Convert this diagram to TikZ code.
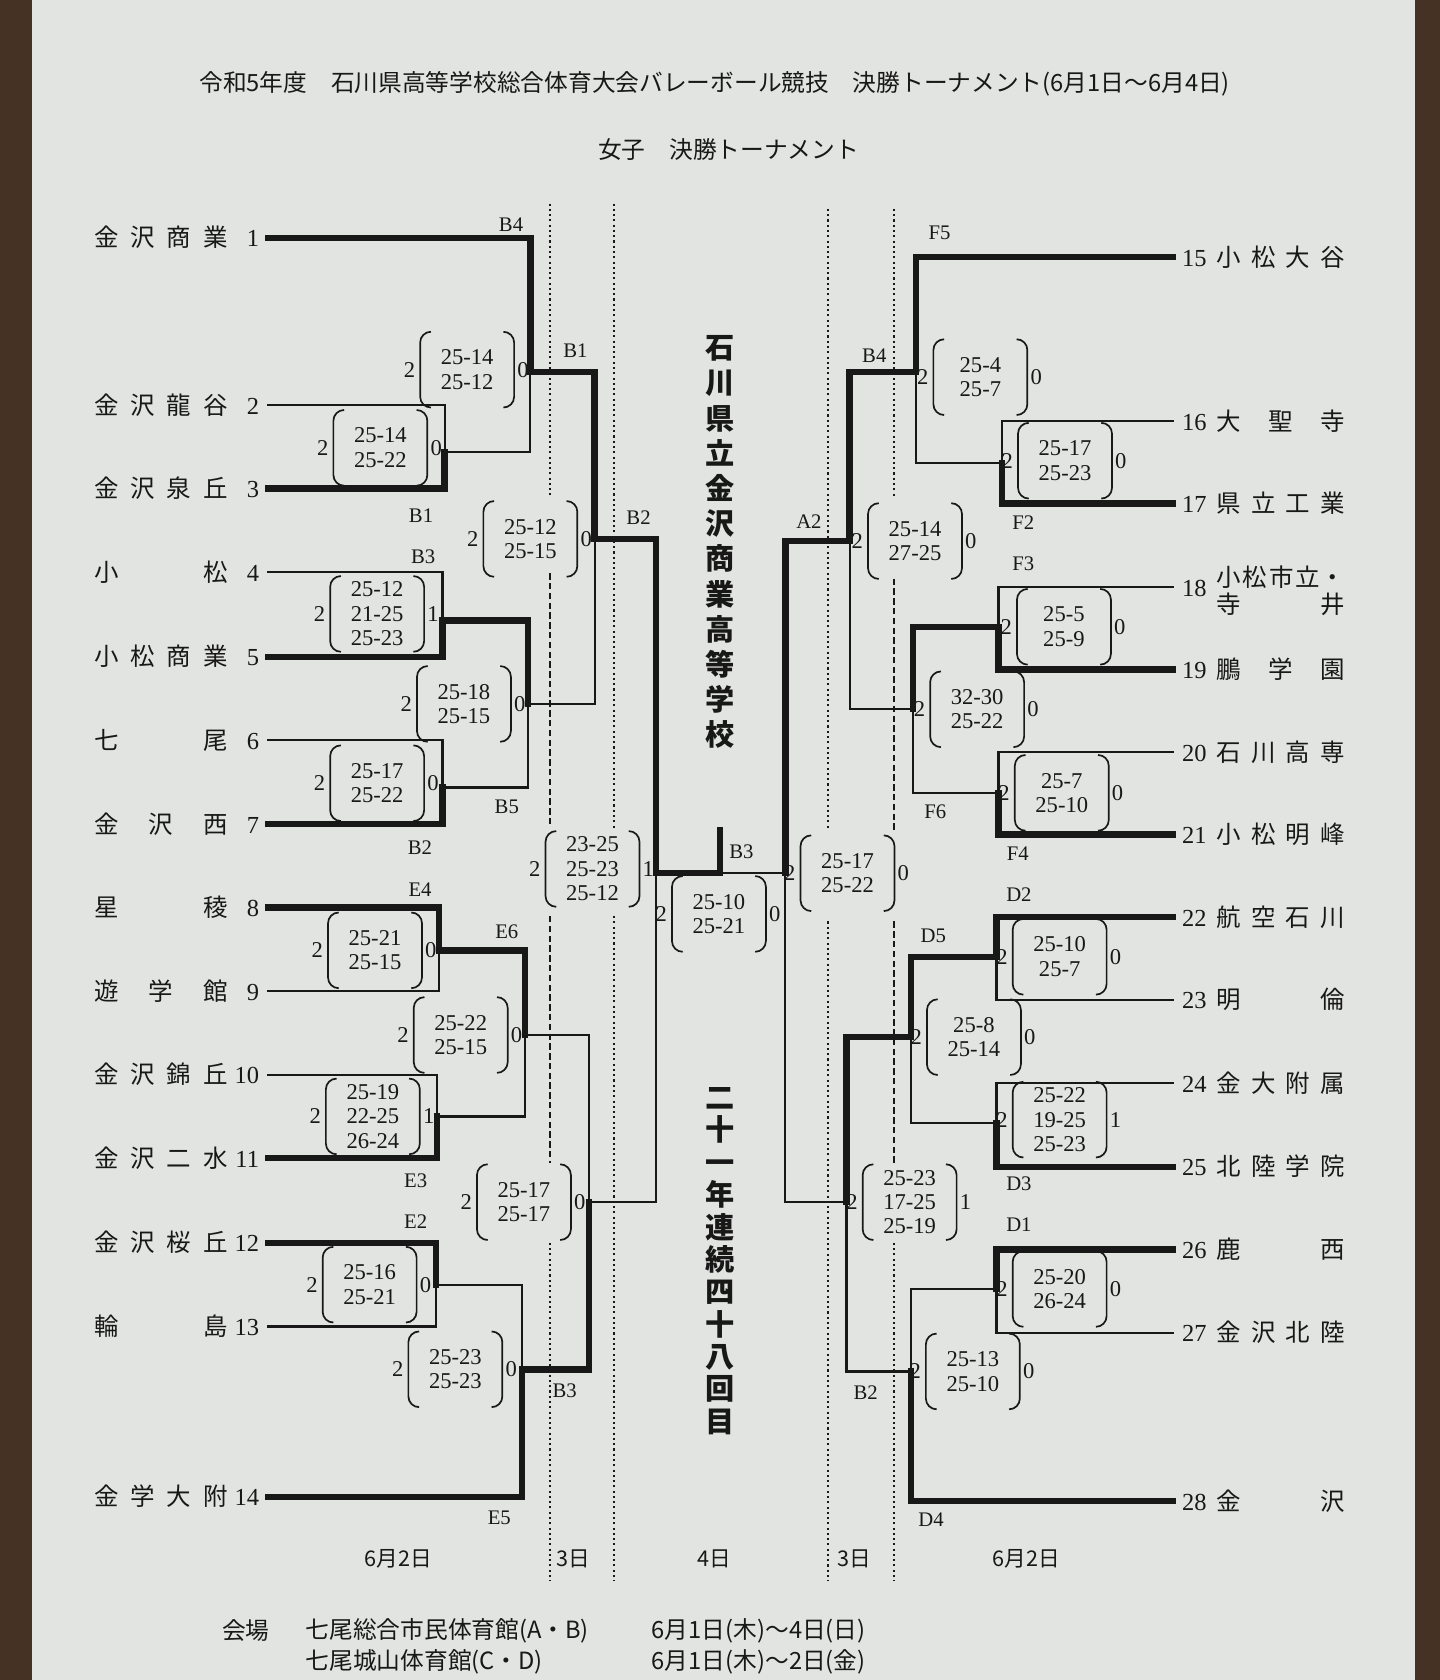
\documentclass[tikz,border=0pt]{standalone}
\usepackage{fontspec}
\setmainfont{Liberation Serif}
\newfontfamily\jp{Noto Sans CJK JP}
\definecolor{paper}{RGB}{226,228,225}
\definecolor{wood}{RGB}{70,50,36}
\definecolor{ink}{RGB}{24,24,24}
\newcommand\mscore[5]{%
  \node[sbox] (#1) at (#2) {#5};
  \draw[brk] ([xshift=0.2cm]#1.north west) -- (#1.north west) -- (#1.south west) -- ([xshift=0.2cm]#1.south west);
  \draw[brk] ([xshift=-0.2cm]#1.north east) -- (#1.north east) -- (#1.south east) -- ([xshift=-0.2cm]#1.south east);
  \node[snum,anchor=east,inner xsep=2.5pt] (#1l) at (#1.west) {#3};
  \node[snum,anchor=west] (#1r) at (#1.east) {#4};}

\begin{document}
\begin{tikzpicture}[x=0.02cm,y=-0.02cm,color=ink,line join=miter,
    win/.style={line width=3.4pt,line cap=rect},
    lose/.style={line width=1.2pt,line cap=rect},
    brk/.style={line width=0.9pt,rounded corners=0.2cm},
    sbox/.style={minimum width=1.74cm,minimum height=1.4cm,inner sep=0pt,align=center,font=\fontsize{12}{13}\selectfont},
    snum/.style={inner sep=1.5pt,font=\fontsize{12}{13}\selectfont},
    code/.style={inner sep=0pt,font=\fontsize{11}{12}\selectfont},
    teamL/.style={anchor=east,inner xsep=4.5pt,inner ysep=0pt,text height=0.36cm,text depth=0.02cm,font=\fontsize{13}{15}\selectfont},
    teamR/.style={teamL,anchor=west},
    dotv/.style={line width=1.1pt,dash pattern=on 1.1pt off 1.7pt},
    dashv/.style={line width=1.1pt,dash pattern=on 3.4pt off 1.8pt},
    vtxt/.style={align=center,font=\jp\bfseries\fontsize{15.5}{18.7}\selectfont},
    jtxt/.style={font=\jp\fontsize{12.6}{14}\selectfont}]
\useasboundingbox (0,0) rectangle (1344,1568);
\clip (0,0) rectangle (1344,1568);
\fill[wood] (0,0) rectangle (1344,1568);
\fill[paper] (30,0) rectangle (1321,1568);

\node[jtxt] (title) at (667,78) {令和5年度　石川県高等学校総合体育大会バレーボール競技　決勝トーナメント(6月1日～6月4日)};
\node[jtxt] (sub) at (680,140) {女子　決勝トーナメント};

\foreach \x/\a/\b in {513/190/462,513/1160/1475,573/190/775,573/855/1475,773/195/775,773/860/1475,834/195/465,834/1160/1475}
  \draw[dotv] (\x,\a) -- (\x,\b);
\foreach \x/\a/\b in {513/535/772,513/855/1085,834/540/775,834/860/1085}
  \draw[dashv] (\x,\a) -- (\x,\b);

\foreach \n/\y/\nm in {1/222/{金\hfill 沢\hfill 商\hfill 業},2/378/{金\hfill 沢\hfill 龍\hfill 谷},3/456/{金\hfill 沢\hfill 泉\hfill 丘},
    4/534/{小\hfill 松},5/613/{小\hfill 松\hfill 商\hfill 業},6/691/{七\hfill 尾},7/769/{金\hfill 沢\hfill 西},
    8/847/{星\hfill 稜},9/925/{遊\hfill 学\hfill 館},10/1003/{金\hfill 沢\hfill 錦\hfill 丘},11/1081/{金\hfill 沢\hfill 二\hfill 水},
    12/1160/{金\hfill 沢\hfill 桜\hfill 丘},13/1238/{輪\hfill 島},14/1397/{金\hfill 学\hfill 大\hfill 附}}
  \node[teamL] (t\n) at (250,\y) {\makebox[2.5cm]{\jp\nm}\hspace{0.06cm}\makebox[0.52cm][r]{\n}};
\foreach \n/\y/\nm in {15/240/{小\hfill 松\hfill 大\hfill 谷},16/393/{大\hfill 聖\hfill 寺},17/470/{県\hfill 立\hfill 工\hfill 業},
    19/625/{鵬\hfill 学\hfill 園},20/702/{石\hfill 川\hfill 高\hfill 専},21/779/{小\hfill 松\hfill 明\hfill 峰},
    22/856/{航\hfill 空\hfill 石\hfill 川},23/933/{明\hfill 倫},24/1011/{金\hfill 大\hfill 附\hfill 属},
    25/1089/{北\hfill 陸\hfill 学\hfill 院},26/1166/{鹿\hfill 西},27/1244/{金\hfill 沢\hfill 北\hfill 陸},28/1401/{金\hfill 沢}}
  \node[teamR] (t\n) at (1095,\y) {\makebox[0.5cm][l]{\n}\hspace{0.14cm}\makebox[2.4cm]{\jp\nm}};
\node[teamR] (t18) at (1095,548) {\makebox[0.5cm][l]{18}\hspace{0.14cm}\parbox{2.4cm}{\jp\fontsize{13}{14.7}\selectfont
  \makebox[2.4cm]{小\hfill 松\hfill 市\hfill 立・}\\\makebox[2.4cm]{寺\hfill 井}}};

\coordinate (m2x3) at (415,422);
\coordinate (m1x3) at (495,347);
\coordinate (m4x5) at (413,579);
\coordinate (m6x7) at (413,735);
\coordinate (m4x7) at (493,657);
\coordinate (m1x7) at (555,503);
\coordinate (m8x9) at (410,887);
\coordinate (m10x11) at (408,1042);
\coordinate (m8x11) at (490,966);
\coordinate (m12x13) at (407,1199);
\coordinate (m12x14) at (487,1278);
\coordinate (m8x14) at (550,1122);
\coordinate (m1x14) at (612,815);
\coordinate (top) at (672,815);
\coordinate (cup) at (672,775);
\coordinate (m16x17) at (935,432);
\coordinate (m15x17) at (855,347);
\coordinate (m18x19) at (932,585);
\coordinate (m20x21) at (932,740);
\coordinate (m18x21) at (852,662);
\coordinate (m15x21) at (793,505);
\coordinate (m22x23) at (930,893);
\coordinate (m24x25) at (930,1048);
\coordinate (m22x25) at (850,968);
\coordinate (m26x27) at (930,1203);
\coordinate (m26x28) at (850,1280);
\coordinate (m22x28) at (790,1122);
\coordinate (m15x28) at (733,815);

\draw[lose] (t2.east) -| (m2x3);
\draw[win] (t3.east) -| (m2x3);
\draw[win] (t1.east) -| (m1x3);
\draw[lose] (m2x3) -| (m1x3);
\draw[lose] (t4.east) -| (m4x5);
\draw[win] (t5.east) -| (m4x5);
\draw[lose] (t6.east) -| (m6x7);
\draw[win] (t7.east) -| (m6x7);
\draw[win] (m4x5) -| (m4x7);
\draw[lose] (m6x7) -| (m4x7);
\draw[win] (m1x3) -| (m1x7);
\draw[lose] (m4x7) -| (m1x7);
\draw[win] (t8.east) -| (m8x9);
\draw[lose] (t9.east) -| (m8x9);
\draw[lose] (t10.east) -| (m10x11);
\draw[win] (t11.east) -| (m10x11);
\draw[win] (m8x9) -| (m8x11);
\draw[lose] (m10x11) -| (m8x11);
\draw[win] (t12.east) -| (m12x13);
\draw[lose] (t13.east) -| (m12x13);
\draw[lose] (m12x13) -| (m12x14);
\draw[win] (t14.east) -| (m12x14);
\draw[lose] (m8x11) -| (m8x14);
\draw[win] (m12x14) -| (m8x14);
\draw[win] (m1x7) -| (m1x14);
\draw[lose] (m8x14) -| (m1x14);
\draw[win] (m1x14) -- (top) -- (cup);

\draw[win] (t15.west) -| (m15x17);
\draw[lose] (t16.west) -| (m16x17);
\draw[win] (t17.west) -| (m16x17);
\draw[lose] (m16x17) -| (m15x17);
\draw[lose] (t18.west) -| (m18x19);
\draw[win] (t19.west) -| (m18x19);
\draw[lose] (t20.west) -| (m20x21);
\draw[win] (t21.west) -| (m20x21);
\draw[win] (m18x19) -| (m18x21);
\draw[lose] (m20x21) -| (m18x21);
\draw[win] (m15x17) -| (m15x21);
\draw[lose] (m18x21) -| (m15x21);
\draw[win] (t22.west) -| (m22x23);
\draw[lose] (t23.west) -| (m22x23);
\draw[lose] (t24.west) -| (m24x25);
\draw[win] (t25.west) -| (m24x25);
\draw[win] (m22x23) -| (m22x25);
\draw[lose] (m24x25) -| (m22x25);
\draw[win] (t26.west) -| (m26x27);
\draw[lose] (t27.west) -| (m26x27);
\draw[lose] (m26x27) -| (m26x28);
\draw[win] (t28.west) -| (m26x28);
\draw[win] (m22x25) -| (m22x28);
\draw[lose] (m26x28) -| (m22x28);
\draw[win] (m15x21) -| (m15x28);
\draw[lose] (m22x28) -| (m15x28);
\draw[lose] (m15x28) -- (top);

\mscore{s2x3}{355,418}{2}{0}{25-14\\25-22}
\mscore{s1x3}{436,345}{2}{0}{25-14\\25-12}
\mscore{s1x7}{495,503}{2}{0}{25-12\\25-15}
\mscore{s4x5}{352,573}{2}{1}{25-12\\21-25\\25-23}
\mscore{s4x7}{433,657}{2}{0}{25-18\\25-15}
\mscore{s6x7}{352,731}{2}{0}{25-17\\25-22}
\mscore{s1x14}{553,811}{2}{1}{23-25\\25-23\\25-12}
\mscore{s8x9}{350,887}{2}{0}{25-21\\25-15}
\mscore{s8x11}{430,966}{2}{0}{25-22\\25-15}
\mscore{s10x11}{348,1042}{2}{1}{25-19\\22-25\\26-24}
\mscore{s8x14}{489,1122}{2}{0}{25-17\\25-17}
\mscore{s12x13}{345,1199}{2}{0}{25-16\\25-21}
\mscore{s12x14}{425,1278}{2}{0}{25-23\\25-23}
\mscore{sfin}{671,853}{2}{0}{25-10\\25-21}
\mscore{s15x28}{791,815}{2}{0}{25-17\\25-22}
\mscore{s15x21}{854,505}{2}{0}{25-14\\27-25}
\mscore{s15x17}{915,352}{2}{0}{25-4\\25-7}
\mscore{s16x17}{994,430}{2}{0}{25-17\\25-23}
\mscore{s18x19}{993,585}{2}{0}{25-5\\25-9}
\mscore{s18x21}{912,662}{2}{0}{32-30\\25-22}
\mscore{s20x21}{991,740}{2}{0}{25-7\\25-10}
\mscore{s22x23}{989,893}{2}{0}{25-10\\25-7}
\mscore{s22x25}{909,968}{2}{0}{25-8\\25-14}
\mscore{s24x25}{989,1045}{2}{1}{25-22\\19-25\\25-23}
\mscore{s22x28}{849,1122}{2}{1}{25-23\\17-25\\25-19}
\mscore{s26x27}{989,1203}{2}{0}{25-20\\26-24}
\mscore{s26x28}{908,1280}{2}{0}{25-13\\25-10}

\foreach \nm/\x/\y/\t in {cB4/477/210/B4,cB1a/537/327/B1,cB1/393/481/B1,cB3/395/520/B3,cB2a/596/483/B2,
    cB5/473/753/B5,cB2/392/791/B2,cE4/392/830/E4,cE6/473/870/E6,cE3/388/1102/E3,cE2/388/1140/E2,
    cB3a/527/1298/B3,cE5/466/1417/E5,cB3c/692/795/B3,cF5/877/217/F5,cB4r/816/332/B4,cF2/955/488/F2,
    cA2/755/487/A2,cF3/955/526/F3,cF6/873/758/F6,cF4/950/797/F4,cD2/951/835/D2,cD5/871/873/D5,
    cD3/951/1105/D3,cD1/951/1143/D1,cB2r/808/1300/B2,cD4/869/1418/D4}
  \node[code] (\nm) at (\x,\y) {\t};

\node[vtxt] (school) at (672,506) {石\\川\\県\\立\\金\\沢\\商\\業\\高\\等\\学\\校};
\node[vtxt,font=\jp\bfseries\fontsize{15.5}{17.2}\selectfont] (record) at (672,1177) {二\\十\\一\\年\\連\\続\\四\\十\\八\\回\\目};

\foreach \nm/\x/\t in {dL2/372/6月2日,dL3/535/3日,d4/667/4日,dR3/797/3日,dR2/958/6月2日}
  \node[jtxt,font=\jp\fontsize{11.5}{13}\selectfont] (\nm) at (\x,1455) {\t};

\node[jtxt,anchor=west,inner sep=0pt] (hall) at (207,1522) {会場};
\node[jtxt,anchor=west,inner sep=0pt] (venA) at (285,1522) {七尾総合市民体育館(A・B)};
\node[jtxt,anchor=west,inner sep=0pt] (dateA) at (608,1522) {6月1日(木)～4日(日)};
\node[jtxt,anchor=west,inner sep=0pt] (venB) at (285,1551) {七尾城山体育館(C・D)};
\node[jtxt,anchor=west,inner sep=0pt] (dateB) at (608,1551) {6月1日(木)～2日(金)};
\end{tikzpicture}
\end{document}
